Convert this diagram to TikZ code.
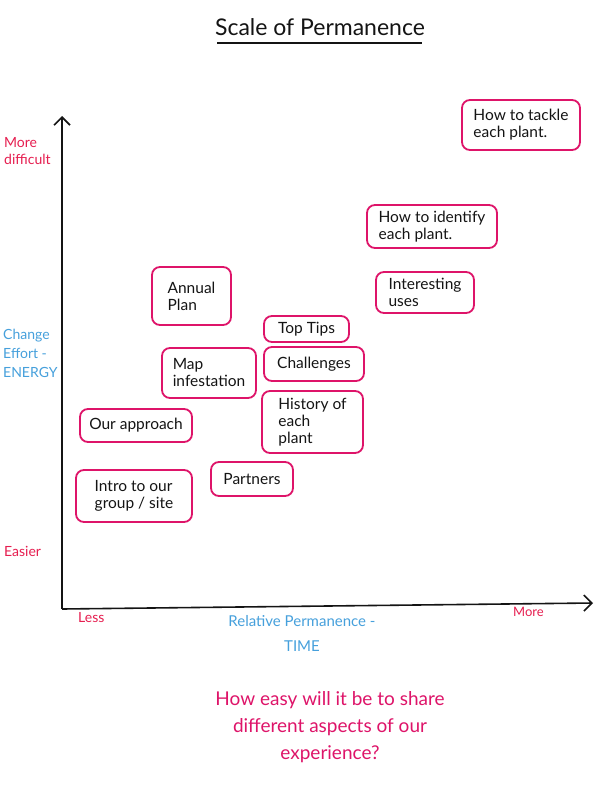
\documentclass[tikz,border=0pt]{standalone}
\usepackage{fontspec}
\setmainfont{Lato}
\usetikzlibrary{arrows.meta}
\definecolor{pinkbox}{RGB}{222,20,105}
\definecolor{redlab}{RGB}{230,30,80}
\definecolor{bluelab}{RGB}{70,160,220}
\definecolor{ink}{RGB}{20,20,20}
\tikzset{
  card/.style={draw=pinkbox, line width=1.8pt, rounded corners=8pt, align=left, inner sep=3pt,
    font=\fontsize{15.5}{17}\selectfont, text=ink},
  redtxt/.style={text=redlab, font=\fontsize{14}{17}\selectfont, align=left, inner sep=0pt},
  bluetxt/.style={text=bluelab, font=\fontsize{14}{19}\selectfont, align=left, inner sep=0pt},
  axis/.style={draw=ink, line width=1.6pt, -{Straight Barb[length=8pt,width=16pt,line width=1.6pt]}}
}
\begin{document}
\begin{tikzpicture}[x=1pt,y=-1pt]
\useasboundingbox[fill=white] (0,0) rectangle (604,808);
% title
\node[font=\fontsize{23}{26}\selectfont, text=ink, inner sep=0pt] (title) at (320,27) {Scale of Permanence};
\coordinate (ulA) at (217,43);
\coordinate (ulB) at (422,43);
\draw[line width=2pt, ink] (ulA) -- (ulB);
% axes
\coordinate (O) at (62,609);
\coordinate (ytop) at (62,116);
\coordinate (xend) at (593,603);
\draw[axis] (O) -- (ytop);
\draw[axis] (O) -- (xend);
% axis labels
\node[redtxt, anchor=north west] (mdiff) at (4,137) {More\\difficult};
\node[bluetxt, anchor=north west] (chg) at (3,329) {Change\\Effort -\\ENERGY};
\node[redtxt, anchor=north west] (easier) at (4,546) {Easier};
\node[redtxt, anchor=north west] (less) at (78,612) {Less};
\node[redtxt, anchor=north west, font=\fontsize{13}{15}\selectfont] (more) at (513,607) {More};
\node[bluetxt, align=center, font=\fontsize{15}{25}\selectfont] (time) at (302,633) {Relative Permanence -\\TIME};
% cards
\node[card, minimum width=118pt, minimum height=50pt] (tackle) at (521,125) {How to tackle\\each plant.};
\node[card, minimum width=130pt, minimum height=43pt] (identify) at (432,226.5) {How to identify\\each plant.};
\node[card, minimum width=98pt, minimum height=41pt] (uses) at (425,292.5) {Interesting\\uses};
\node[card, minimum width=79pt, minimum height=58pt] (annual) at (191.5,296) {Annual\\Plan};
\node[card, minimum width=85pt, minimum height=26pt, inner sep=2pt] (tips) at (306.5,329) {Top Tips};
\node[card, minimum width=100pt, minimum height=34pt] (chall) at (314,364) {Challenges};
\node[card, minimum width=94pt, minimum height=50pt] (map) at (209,373) {Map\\infestation};
\node[card, minimum width=101pt, minimum height=62pt] (hist) at (312.5,422) {History of\\each\\plant};
\node[card, minimum width=112pt, minimum height=33pt] (appr) at (136,425.5) {Our approach};
\node[card, minimum width=82pt, minimum height=34pt] (part) at (252,479) {Partners};
\node[card, minimum width=116pt, minimum height=52pt] (intro) at (134,496) {Intro to our\\group / site};
% question
\node[text=pinkbox, align=center, font=\fontsize{19}{27}\selectfont, inner sep=0pt] (q) at (330,727)
  {How easy will it be to share\\different aspects of our\\experience?};
\end{tikzpicture}
\end{document}
